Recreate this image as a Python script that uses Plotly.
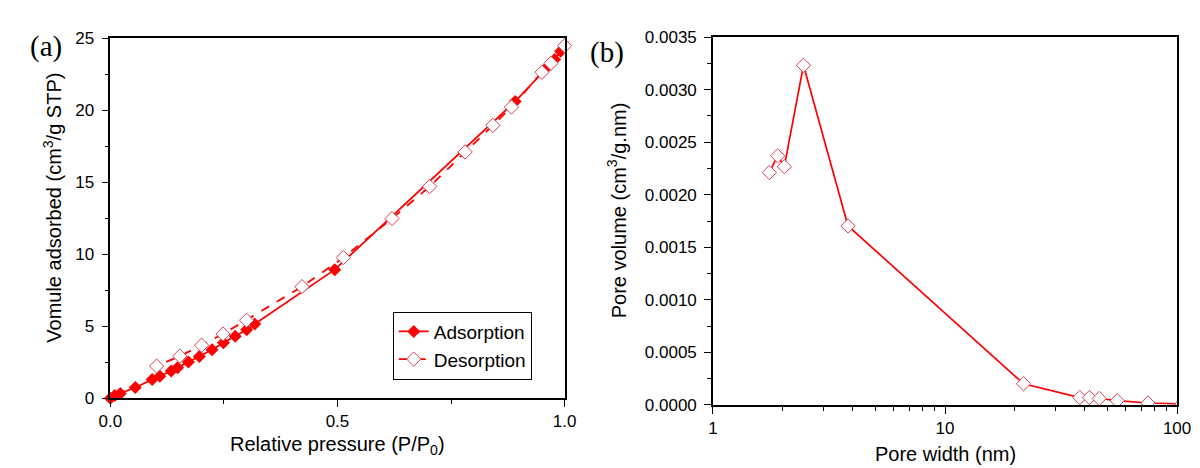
import plotly.graph_objects as go

# ---- data (a): N2 isotherm ----
ads_p = [0.0, 0.010, 0.022, 0.055, 0.092, 0.109, 0.134, 0.148, 0.172, 0.196,
         0.224, 0.249, 0.275, 0.300, 0.318, 0.494, 0.891, 0.963, 0.978, 0.991]
ads_v = [0.0, 0.18, 0.33, 0.74, 1.29, 1.52, 1.89, 2.12, 2.52, 2.90,
         3.36, 3.85, 4.30, 4.75, 5.15, 8.93, 20.61, 23.04, 23.53, 24.10]

des_p = [1.000, 0.970, 0.950, 0.883, 0.842, 0.781, 0.703, 0.620, 0.513, 0.422,
         0.300, 0.248, 0.201, 0.153, 0.102]
des_v = [24.49, 23.27, 22.64, 20.23, 18.96, 17.11, 14.71, 12.48, 9.77, 7.75,
         5.41, 4.46, 3.68, 2.92, 2.23]

# ---- data (b): pore size distribution ----
pore_w = [1.75, 1.90, 2.03, 2.455, 3.82, 21.8, 38.1, 41.9, 46.2, 55.2, 74.9, 105.0]
pore_v = [0.002212, 0.002371, 0.002267, 0.003232, 0.001703, 0.000201,
          0.000070, 0.000070, 0.000061, 0.000040, 0.000018, 0.000010]

a_xticks = [0.0, 0.5, 1.0]
a_xticklabels = ["0.0", "0.5", "1.0"]
b_xticks = [1, 10, 100]
b_xticklabels = ["1", "10", "100"]

RED = "#ff0000"
OPEN = "rgb(212,64,86)"
FONT = "Arial, Liberation Sans, sans-serif"
W, H = 1200, 468

fig = go.Figure()
fig.add_trace(go.Scatter(
    x=ads_p, y=ads_v, name="Adsorption", mode="lines+markers",
    line=dict(color=RED, width=1.8),
    marker=dict(symbol="diamond", size=10, color=RED, line=dict(width=0)),
    cliponaxis=False, xaxis="x", yaxis="y"))
fig.add_trace(go.Scatter(
    x=des_p, y=des_v, name="Desorption", mode="lines+markers",
    line=dict(color=RED, width=1.8, dash="dash"),
    marker=dict(symbol="diamond", size=11, color="white", line=dict(width=1, color=OPEN)),
    cliponaxis=False, xaxis="x", yaxis="y"))
fig.add_trace(go.Scatter(
    x=pore_w, y=pore_v, name="PSD", mode="lines+markers", showlegend=False,
    line=dict(color=RED, width=1.7),
    marker=dict(symbol="diamond", size=11, color="white", line=dict(width=1, color=OPEN)),
    cliponaxis=True, xaxis="x2", yaxis="y2"))

def dom_x(a, b):
    return [a / W, b / W]

def dom_y(top, bot):
    return [1 - bot / H, 1 - top / H]

axis_common = dict(showline=True, linecolor="black", linewidth=1.5, mirror=True,
                   ticks="outside", ticklen=7, tickwidth=1.3, tickcolor="black",
                   showgrid=False, zeroline=False,
                   tickfont=dict(family=FONT, size=17, color="black"))

fig.update_layout(
    width=W, height=H,
    margin=dict(l=0, r=0, t=0, b=0),
    paper_bgcolor="white", plot_bgcolor="white",
    font=dict(family=FONT, size=17, color="black"),
    xaxis=dict(domain=dom_x(92.3, 556.7), range=[0, 1], anchor="y",
               tickvals=a_xticks, ticktext=a_xticklabels,
               minor=dict(ticks="outside", ticklen=4, tickcolor="black", dtick=0.25, tick0=0),
               **axis_common),
    yaxis=dict(domain=dom_y(22.3, 397.3), range=[0, 25], anchor="x",
               dtick=5, tick0=0, ticklabelstandoff=4,
               minor=dict(ticks="outside", ticklen=4, tickcolor="black", dtick=2.5, tick0=0),
               **axis_common),
    xaxis2=dict(domain=dom_x(708.3, 1182.7), type="log", range=[0, 2], anchor="y2",
                tickvals=b_xticks, ticktext=b_xticklabels,
                minor=dict(ticks="outside", ticklen=4, tickcolor="black", dtick="D1"),
                **axis_common),
    yaxis2=dict(domain=dom_y(21.0, 404.3), range=[0, 0.0035], anchor="x2",
                dtick=0.0005, tick0=0, tickformat=".4f", ticklabelstandoff=4,
                minor=dict(ticks="outside", ticklen=4, tickcolor="black", dtick=0.00025, tick0=0),
                **axis_common),
    legend=dict(x=381 / W, y=1 - 307 / H, xanchor="left", yanchor="top",
                bordercolor="black", borderwidth=1, bgcolor="white",
                font=dict(family=FONT, size=19, color="black"), tracegroupgap=0),
    showlegend=True,
)

annots = [
    dict(text="Relative pressure (P/P<sub>0</sub>)", x=325 / W, y=1 - 447 / H, size=20, angle=0),
    dict(text="Vomule adsorbed (cm<sup>3</sup>/g STP)", x=33 / W, y=1 - 198.5 / H, size=20, angle=-90),
    dict(text="Pore width (nm)", x=945.5 / W, y=1 - 455 / H, size=20, angle=0),
    dict(text="Pore volume (cm<sup>3</sup>/g.nm)", x=610 / W, y=1 - 201.7 / H, size=20, angle=-90),
]
for a in annots:
    fig.add_annotation(text=a["text"], x=a["x"], y=a["y"], xref="paper", yref="paper",
                       xanchor="center", yanchor="middle", showarrow=False,
                       textangle=a["angle"], font=dict(family=FONT, size=a["size"], color="black"))

for txt, cx, cy in [("(a)", 26.5, 30.5), ("(b)", 600.5, 36.7)]:
    fig.add_annotation(text=txt, x=cx / W, y=1 - cy / H, xref="paper", yref="paper",
                       xanchor="center", yanchor="middle", showarrow=False,
                       font=dict(family="Times New Roman, Liberation Serif, serif", size=29, color="black"))

fig.write_html("out.html")
